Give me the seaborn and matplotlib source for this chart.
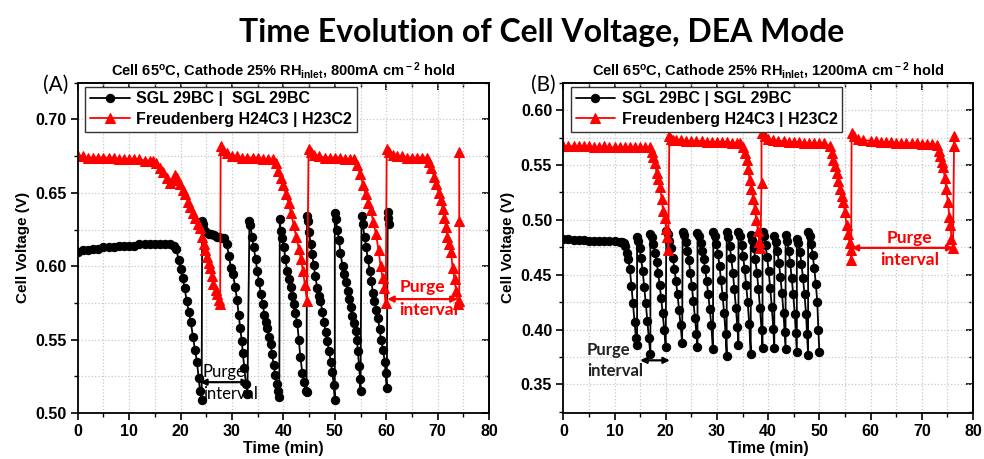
import numpy as np
import pandas as pd
import matplotlib
matplotlib.use('Agg')
import matplotlib.pyplot as plt
from matplotlib.ticker import MultipleLocator
import seaborn as sns

# ---- panel A : 800 mA/cm2 ----
a_sgl_t = [0, 1, 2, 3, 4, 5, 6, 7, 8, 9, 10, 11, 12, 13, 14, 15, 16, 17, 18, 18.8,
           19.2, 19.6, 20.0, 20.4, 20.8, 21.2, 21.6, 22.0, 22.4, 22.8, 23.2, 23.5, 23.8, 24.1,
           24.2, 24.3, 24.6, 25.0, 25.5, 26.0, 26.5, 27.0, 27.5, 28.0, 28.5, 29.0, 29.4, 29.8,
           30.2, 30.6, 31.0, 31.3, 31.6, 31.9, 32.1, 32.4, 32.7, 33.0,
           33.4, 33.6, 33.9, 34.2, 34.6, 34.9, 35.3, 35.6, 36.0, 36.3, 36.6, 36.9, 37.2, 37.5,
           37.8, 38.1, 38.4, 38.7, 39.0, 39.2,
           39.3, 39.5, 39.8, 40.1, 40.4, 40.7, 41.1, 41.4, 41.7, 42.0, 42.3, 42.7, 43.0, 43.3,
           43.7, 44.0, 44.3, 44.5,
           44.6, 44.8, 45.0, 45.3, 45.6, 45.9, 46.2, 46.6, 46.9, 47.2, 47.6, 47.9, 48.2, 48.5,
           48.9, 49.2, 49.5, 49.8, 50.0,
           50.0, 50.2, 50.5, 50.8, 51.1, 51.5, 51.8, 52.1, 52.5, 52.8, 53.1, 53.4, 53.8, 54.1,
           54.3, 54.5, 54.7, 54.9, 55.0,
           55.2, 55.4, 55.8, 56.1, 56.4, 56.8, 57.1, 57.4, 57.7, 58.1, 58.4, 58.7, 59.0, 59.4,
           59.7, 59.9, 60.1,
           60.3, 60.4, 60.5]
a_sgl_v = [.610, .611, .611, .612, .612, .613, .613, .613, .614, .614, .614, .614, .615, .615,
           .615, .615, .615, .615, .615, .614,
           .612, .604, .598, .592, .585, .576, .569, .562, .552, .543, .535, .524, .515, .509,
           .631, .629, .625, .623, .622, .622, .621, .620, .620, .619, .619, .615, .607, .599,
           .595, .586, .577, .567, .558, .549, .541, .531, .520, .513,
           .631, .628, .620, .613, .605, .597, .589, .581, .574, .567, .562, .558, .552, .547,
           .540, .533, .526, .520, .515, .511,
           .632, .624, .619, .613, .605, .597, .591, .586, .580, .574, .568, .561, .550, .538,
           .527, .521, .515, .514,
           .634, .631, .623, .615, .608, .601, .593, .585, .580, .576, .569, .562, .555, .549,
           .542, .535, .528, .519, .509,
           .636, .632, .625, .618, .609, .600, .595, .589, .583, .578, .572, .566, .561, .556,
           .550, .542, .532, .523, .515,
           .634, .629, .620, .613, .605, .597, .590, .582, .576, .570, .565, .557, .550, .543,
           .535, .527, .517,
           .637, .633, .629]

a_fre_t = [0, 1, 2, 3, 4, 5, 6, 7, 8, 9, 10, 11, 12, 13, 14, 14.7, 15.3, 16.0, 16.6, 17.3,
           18.0, 18.5, 19.0, 19.4, 19.9, 20.4, 20.9, 21.4, 21.9, 22.4, 22.9, 23.3, 23.8, 24.2,
           24.5, 24.8, 25.1, 25.5, 25.8, 26.1, 26.4, 26.8, 27.1, 27.4, 27.7,
           27.8, 28.3, 29.0, 30, 31, 32, 33, 34, 35, 36, 37, 38.0, 38.5, 39.0, 39.5, 40.0, 40.5,
           41.0, 41.5, 42.0, 42.5, 43.0, 43.4, 43.8, 44.2, 44.6,
           44.9, 45.4, 46, 47, 48, 49, 50, 51, 52, 53, 53.7, 54.3, 54.9, 55.5, 56.0, 56.5, 57.0,
           57.5, 58.0, 58.5, 58.9, 59.3, 59.6, 59.9,
           60.1, 60.6, 61.3, 62, 63, 64, 65, 66, 67, 68.0, 68.4, 68.8, 69.3, 69.7, 70.2, 70.6,
           71.0, 71.3, 71.6, 71.9, 72.3, 72.6, 72.9, 73.3, 73.6, 73.9,
           74.2, 74.2, 74.2]
a_fre_v = [.675, .675, .674, .674, .674, .674, .674, .674, .673, .673, .673, .673, .673, .672,
           .672, .672, .670, .667, .664, .660,
           .657, .659, .662, .660, .656, .652, .649, .644, .640, .636, .633, .629, .626, .620,
           .615, .611, .606, .602, .599, .593, .588, .584, .581, .577, .574,
           .682, .679, .677, .675, .675, .674, .674, .674, .674, .673, .673, .673, .670, .665,
           .660, .655, .649, .643, .636, .628, .620, .612, .605, .597, .587, .576,
           .680, .678, .676, .675, .674, .674, .674, .674, .673, .673, .673, .669, .663, .655,
           .649, .643, .638, .630, .622, .611, .600, .592, .585, .575,
           .680, .678, .676, .675, .675, .674, .674, .674, .674, .674, .671, .667, .661, .656,
           .650, .645, .639, .633, .627, .620, .615, .610, .599, .591, .583, .574,
           .576, .631, .678]

# ---- panel B : 1200 mA/cm2 ----
b_sgl_t = [0, 1, 2, 3, 4, 5, 6, 7, 8, 9, 10, 11,
           11.4, 11.8, 12.1, 12.4, 12.7, 13.0, 13.3, 13.6, 13.9, 14.2, 14.4,
           14.4, 14.6, 14.9, 15.2, 15.5, 15.8, 16.1, 16.4, 16.7, 17.0,
           17.0, 17.3, 17.6, 17.9, 18.2, 18.5, 18.8, 19.1, 19.4, 19.7, 20.0,
           20.1, 20.4, 20.7, 21.0, 21.4, 21.7, 22.0, 22.3, 22.6, 22.9, 23.2,
           23.3, 23.6, 23.9, 24.2, 24.5, 24.8, 25.1, 25.4, 25.7, 26.0, 26.2,
           26.2, 26.5, 26.8, 27.1, 27.4, 27.7, 28.0, 28.3, 28.6, 28.9, 29.2,
           29.3, 29.6, 29.9, 30.2, 30.5, 30.8, 31.1, 31.4, 31.7, 31.9,
           31.9, 32.2, 32.5, 32.8, 33.1, 33.4, 33.7, 34.0, 34.2,
           34.2, 34.5, 34.8, 35.1, 35.4, 35.7, 36.0, 36.3, 36.6,
           36.6, 36.9, 37.2, 37.5, 37.8, 38.1, 38.4, 38.7, 38.9,
           38.9, 39.2, 39.5, 39.8, 40.1, 40.4, 40.7, 41.0, 41.2,
           41.2, 41.5, 41.8, 42.1, 42.4, 42.7, 43.0, 43.2, 43.4,
           43.4, 43.7, 44.0, 44.3, 44.6, 44.9, 45.2, 45.4, 45.6,
           45.6, 45.9, 46.2, 46.5, 46.8, 47.1, 47.4, 47.6, 47.8,
           47.8, 48.1, 48.4, 48.7, 49.0, 49.3, 49.6, 49.8, 50.0]
b_sgl_v = [.483, .483, .482, .482, .482, .481, .481, .481, .481, .481, .481, .480,
           .480, .479, .476, .470, .464, .455, .440, .424, .407, .392, .386,
           .484, .481, .474, .465, .453, .439, .424, .408, .392, .378,
           .487, .484, .478, .470, .462, .452, .441, .429, .415, .400, .384,
           .490, .487, .481, .474, .465, .455, .444, .432, .418, .404, .388,
           .489, .486, .480, .472, .463, .452, .440, .426, .411, .396, .384,
           .488, .485, .479, .472, .464, .455, .444, .432, .419, .404, .382,
           .489, .485, .478, .469, .458, .445, .431, .415, .396, .376,
           .489, .484, .476, .465, .452, .437, .420, .402, .386,
           .489, .485, .477, .467, .455, .441, .425, .405, .378,
           .486, .482, .474, .464, .452, .437, .420, .400, .383,
           .489, .485, .477, .466, .453, .438, .421, .401, .383,
           .485, .480, .472, .461, .448, .433, .415, .398, .382,
           .486, .481, .472, .461, .447, .432, .414, .397, .380,
           .483, .479, .471, .460, .447, .432, .414, .396, .377,
           .489, .485, .478, .468, .456, .442, .425, .400, .380]

b_fre_t = [0, 1, 2, 3, 4, 5, 6, 7, 8, 9, 10, 11, 12, 13, 14, 15, 16, 16.9,
           17.3, 17.6, 17.9, 18.2, 18.5, 18.9, 19.2, 19.5, 19.8, 20.1, 20.3, 20.5,
           20.7, 21.0, 21.5, 22, 23, 24, 25, 26, 27, 28, 29, 30, 31, 32, 33, 34, 34.5,
           35.0, 35.4, 35.8, 36.1, 36.4, 36.7, 37.1, 37.4, 37.7, 38.0, 38.3, 38.5,
           38.7, 38.7,
           38.9, 39.3, 40, 41, 42, 43, 44, 45, 46, 47, 48, 49, 50, 51, 52.1, 52.4, 52.7,
           53.0, 53.4, 53.7, 54.0, 54.4, 54.7, 55.0, 55.3, 55.6, 55.9, 56.1, 56.2,
           56.3, 56.8, 57.5, 58.5, 60, 61, 62, 63, 64, 65, 66, 67, 68, 69, 70, 71, 72,
           72.9, 73.3, 73.6, 73.9, 74.2, 74.5, 74.8, 75.1, 75.4, 75.6, 75.8, 76.1,
           76.3, 76.3]
b_fre_v = [.567, .567, .567, .567, .567, .567, .566, .566, .567, .566, .566, .566, .566, .566,
           .566, .566, .566, .566,
           .562, .557, .552, .543, .537, .530, .519, .508, .502, .492, .484, .473,
           .576, .574, .573, .573, .573, .572, .572, .572, .572, .571, .571, .571, .571, .571,
           .570, .570, .570,
           .566, .561, .555, .546, .536, .528, .519, .510, .500, .490, .480, .474,
           .534, .579,
           .579, .576, .574, .573, .572, .572, .571, .571, .571, .570, .570, .570, .570, .570,
           .567, .561, .555,
           .549, .543, .535, .528, .522, .516, .507, .495, .487, .479, .473, .463,
           .579, .576, .574, .573, .572, .572, .571, .571, .571, .570, .570, .570, .570, .570,
           .569, .569, .569,
           .568, .563, .558, .553, .548, .538, .528, .516, .503, .495, .483, .474,
           .567, .576]

sgl_a_label = 'SGL 29BC |  SGL 29BC'
sgl_b_label = 'SGL 29BC | SGL 29BC'
fre_label = 'Freudenberg H24C3 | H23C2'

sns.set_theme(style='white')
plt.rcParams['font.family'] = ['Liberation Sans', 'DejaVu Sans']
plt.rcParams['font.weight'] = 'bold'
plt.rcParams['text.color'] = 'black'
plt.rcParams['axes.labelcolor'] = 'black'
plt.rcParams['xtick.color'] = 'black'
plt.rcParams['ytick.color'] = 'black'
plt.rcParams['legend.labelcolor'] = 'black'
plt.rcParams['mathtext.fontset'] = 'custom'
plt.rcParams['mathtext.rm'] = 'Liberation Sans:bold'
plt.rcParams['mathtext.it'] = 'Liberation Sans:bold'

fig = plt.figure(figsize=(9.84, 4.59), dpi=100)
axA = fig.add_axes([0.079, 0.1002, 0.418, 0.7196])
axB = fig.add_axes([0.5725, 0.1002, 0.4163, 0.7196])

fig.text(0.55, 0.93, 'Time Evolution of Cell Voltage, DEA Mode', ha='center', va='center',
         fontsize=23, fontweight='bold', family='Lato', color='black')


def draw(ax, ts, vs, tf, vf, sgl_label, ylim, ymajor):
    sns.lineplot(x=ts, y=vs, ax=ax, sort=False, estimator=None, color='black', lw=1.3,
                 marker='o', markersize=6, markeredgecolor='black', label=sgl_label)
    sns.lineplot(x=tf, y=vf, ax=ax, sort=False, estimator=None, color='red', lw=1.3,
                 marker='^', markersize=7, markeredgecolor='red', label=fre_label)
    ax.set_xlim(0, 80)
    ax.set_ylim(*ylim)
    ax.xaxis.set_major_locator(MultipleLocator(10))
    ax.xaxis.set_minor_locator(MultipleLocator(5))
    ax.yaxis.set_major_locator(MultipleLocator(ymajor))
    ax.yaxis.set_minor_locator(MultipleLocator(ymajor / 2))
    ax.yaxis.set_major_formatter(plt.FormatStrFormatter('%.2f'))
    ax.grid(True, which='both', color='#c8c8c8', linestyle=':', linewidth=0.9)
    ax.set_axisbelow(True)
    ax.tick_params(which='major', direction='out', length=5, width=1.2, labelsize=11.5,
                   bottom=True, left=True, color='black', labelcolor='black', pad=3)
    ax.tick_params(which='minor', direction='out', length=3, width=1.0,
                   bottom=True, left=True, color='black')
    for sp in ax.spines.values():
        sp.set_color('black')
        sp.set_linewidth(1.3)
    # mirror ticks pointing inwards
    top = ax.secondary_xaxis('top')
    top.xaxis.set_major_locator(MultipleLocator(10))
    top.xaxis.set_minor_locator(MultipleLocator(5))
    top.tick_params(which='both', direction='in', labeltop=False, top=True, color='black')
    top.tick_params(which='major', length=5, width=1.2)
    top.tick_params(which='minor', length=3, width=1.0)
    right = ax.secondary_yaxis('right')
    right.yaxis.set_major_locator(MultipleLocator(ymajor))
    right.yaxis.set_minor_locator(MultipleLocator(ymajor / 2))
    right.tick_params(which='both', direction='in', labelright=False, right=True, color='black')
    right.tick_params(which='major', length=5, width=1.2)
    right.tick_params(which='minor', length=3, width=1.0)
    ax.set_xlabel('Time (min)', fontsize=11.5, fontweight='bold', labelpad=1, color='black')
    ax.set_ylabel('Cell Voltage (V)', fontsize=11, fontweight='bold', labelpad=4, color='black')
    leg = ax.legend(loc='upper left', bbox_to_anchor=(0.018, 0.988), borderaxespad=0,
                    fancybox=False, framealpha=1, edgecolor='#333333',
                    handlelength=2.5, handletextpad=0.4, labelspacing=0.35,
                    borderpad=0.3, prop={'weight': 'bold', 'size': 11.5})
    leg.get_frame().set_linewidth(1.0)


def purge(ax, x0, x1, y, color):
    ax.annotate('', xy=(x1, y), xytext=(x0, y),
                arrowprops=dict(arrowstyle='<|-|>', color=color, lw=1.6,
                                mutation_scale=9, shrinkA=0, shrinkB=0))


draw(axA, a_sgl_t, a_sgl_v, a_fre_t, a_fre_v, sgl_a_label, (0.50, 0.725), 0.05)
draw(axB, b_sgl_t, b_sgl_v, b_fre_t, b_fre_v, sgl_b_label, (0.324, 0.625), 0.05)

axA.set_title(r'Cell 65$^{\rm o}$C, Cathode 25% RH$_{\rm inlet}$, 800mA cm$^{\rm -2}$ hold',
              fontsize=10.5, fontweight='bold', pad=5, color='black')
axB.set_title(r'Cell 65$^{\rm o}$C, Cathode 25% RH$_{\rm inlet}$, 1200mA cm$^{\rm -2}$ hold',
              fontsize=10.5, fontweight='bold', pad=5, color='black')
fig.text(0.057, 0.815, '(A)', fontsize=15, family='Lato', fontweight='normal',
         ha='center', va='center', color='black')
fig.text(0.552, 0.815, '(B)', fontsize=15, family='Lato', fontweight='normal',
         ha='center', va='center', color='black')

# purge interval annotations
purge(axA, 23.8, 33.3, 0.521, 'black')
axA.text(24.2, 0.528, 'Purge', fontsize=12, family='Lato', fontweight='normal',
         color='black', va='center')
axA.text(24.4, 0.513, 'interval', fontsize=12, family='Lato', fontweight='normal',
         color='black', va='center')
purge(axA, 60.2, 73.9, 0.5776, 'red')
axA.text(67.0, 0.5855, 'Purge', fontsize=12.5, family='Lato', fontweight='bold', color='red',
         ha='center', va='center')
axA.text(68.3, 0.5705, 'interval', fontsize=12.5, family='Lato', fontweight='bold', color='red',
         ha='center', va='center')

purge(axB, 15.0, 20.8, 0.372, 'black')
axB.text(4.6, 0.381, 'Purge', fontsize=12, family='Lato', fontweight='bold', color='#222222',
         va='center')
axB.text(4.6, 0.362, 'interval', fontsize=12, family='Lato', fontweight='bold', color='#222222',
         va='center')
purge(axB, 56.3, 76.2, 0.4745, 'red')
axB.text(67.6, 0.4835, 'Purge', fontsize=12.5, family='Lato', fontweight='bold', color='red',
         ha='center', va='center')
axB.text(67.6, 0.463, 'interval', fontsize=12.5, family='Lato', fontweight='bold', color='red',
         ha='center', va='center')

fig.savefig('out.png', dpi=100)
